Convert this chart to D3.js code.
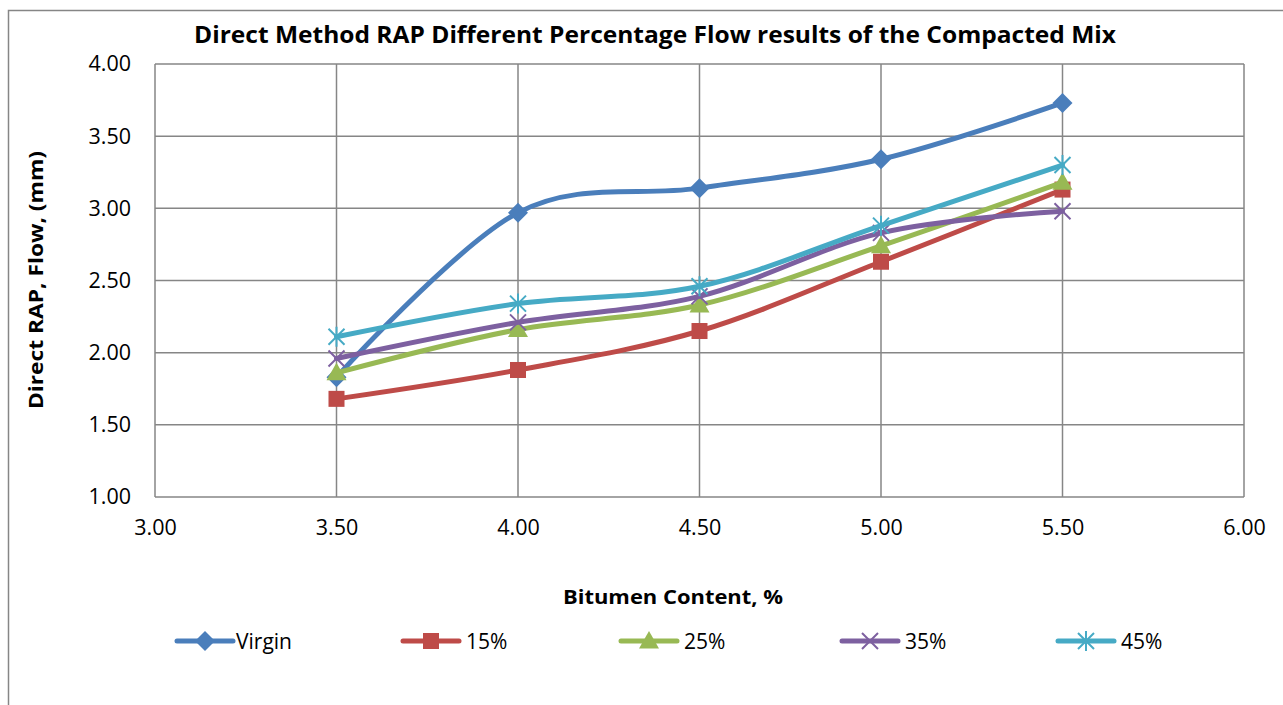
<!DOCTYPE html>
<html>
<head>
<meta charset="utf-8">
<script src="https://cdn.jsdelivr.net/npm/d3@7"></script>
<style>
  body { margin: 0; background: #fff; }
  svg { font-family: "Open Sans", sans-serif; }
</style>
</head>
<body>
<div id="graph"></div>
<script>
// Chart data
const bitumen = [3.5, 4.0, 4.5, 5.0, 5.5];
const virgin = [1.83, 2.97, 3.14, 3.34, 3.73];
const rap15 = [1.68, 1.88, 2.15, 2.63, 3.13];
const rap25 = [1.86, 2.16, 2.33, 2.74, 3.18];
const rap35 = [1.96, 2.21, 2.39, 2.83, 2.98];
const rap45 = [2.11, 2.34, 2.46, 2.88, 3.30];
const seriesNames = ['Virgin', '15%', '25%', '35%', '45%'];
const xTicks = [3.0, 3.5, 4.0, 4.5, 5.0, 5.5, 6.0];
const yTicks = [1.0, 1.5, 2.0, 2.5, 3.0, 3.5, 4.0];

const colors = ['#4a7ebb', '#be4b48', '#98b954', '#7d60a0', '#46aac5'];
const symbols = ['diamond', 'square', 'triangle', 'x', 'star'];
const allValues = [virgin, rap15, rap25, rap35, rap45];

const series = seriesNames.map((name, i) => ({
  name: name,
  color: colors[i],
  symbol: symbols[i],
  points: bitumen.map((b, j) => ({ x: b, y: allValues[i][j] }))
}));

const width = 1283, height = 705;
const plot = { left: 155, top: 64, right: 1244, bottom: 497 };

const svg = d3.select('#graph').append('svg')
  .attr('width', width)
  .attr('height', height);

// outer chart frame
svg.append('path')
  .attr('d', 'M8.5,705 L8.5,10.5 L1283,10.5')
  .attr('fill', 'none')
  .attr('stroke', '#868686')
  .attr('stroke-width', 1.5);

const x = d3.scaleLinear().domain([3, 6]).range([plot.left, plot.right]);
const y = d3.scaleLinear().domain([1, 4]).range([plot.bottom, plot.top]);

// gridlines
svg.append('g')
  .selectAll('line.v')
  .data(xTicks)
  .enter().append('line')
    .attr('x1', d => x(d)).attr('x2', d => x(d))
    .attr('y1', plot.top).attr('y2', plot.bottom)
    .attr('stroke', '#868686').attr('stroke-width', 1.5);

svg.append('g')
  .selectAll('line.h')
  .data(yTicks)
  .enter().append('line')
    .attr('x1', plot.left).attr('x2', plot.right)
    .attr('y1', d => y(d)).attr('y2', d => y(d))
    .attr('stroke', '#868686').attr('stroke-width', 1.5);

// axes (labels only, lines come from the grid)
const xAxis = svg.append('g')
  .attr('transform', `translate(0,${plot.bottom})`)
  .call(d3.axisBottom(x).tickValues(xTicks).tickFormat(d3.format('.2f')).tickSize(0).tickPadding(23));
const yAxis = svg.append('g')
  .attr('transform', `translate(${plot.left},0)`)
  .call(d3.axisLeft(y).tickValues(yTicks).tickFormat(d3.format('.2f')).tickSize(0).tickPadding(24));
[xAxis, yAxis].forEach(a => {
  a.select('.domain').remove();
  a.selectAll('text').attr('font-size', 21.5).attr('fill', '#000')
    .attr('font-family', '"Open Sans", sans-serif');
});

// titles
svg.append('text')
  .attr('x', 655).attr('y', 43)
  .attr('text-anchor', 'middle')
  .attr('font-size', 22.5).attr('font-weight', 'bold')
  .attr('textLength', 922).attr('lengthAdjust', 'spacingAndGlyphs')
  .text('Direct Method RAP Different Percentage Flow results of the Compacted Mix');

svg.append('text')
  .attr('x', 673).attr('y', 604)
  .attr('text-anchor', 'middle')
  .attr('font-size', 20).attr('font-weight', 'bold')
  .attr('textLength', 220).attr('lengthAdjust', 'spacingAndGlyphs')
  .text('Bitumen Content, %');

svg.append('text')
  .attr('transform', 'translate(43,280) rotate(-90)')
  .attr('text-anchor', 'middle')
  .attr('font-size', 20).attr('font-weight', 'bold')
  .attr('textLength', 258).attr('lengthAdjust', 'spacingAndGlyphs')
  .text('Direct RAP, Flow, (mm)');

// marker drawing
function marker(g, sym, color, s) {
  if (sym === 'diamond') {
    g.append('path').attr('d', `M0,${-s} L${s},0 L0,${s} L${-s},0 Z`).attr('fill', color);
  } else if (sym === 'square') {
    g.append('rect').attr('x', -s * 0.8).attr('y', -s * 0.8)
      .attr('width', s * 1.6).attr('height', s * 1.6).attr('fill', color);
  } else if (sym === 'triangle') {
    g.append('path').attr('d', `M0,${-s} L${s},${s * 0.75} L${-s},${s * 0.75} Z`).attr('fill', color);
  } else if (sym === 'x') {
    const a = s * 0.8;
    g.append('path').attr('d', `M${-a},${-a} L${a},${a} M${-a},${a} L${a},${-a}`)
      .attr('stroke', color).attr('stroke-width', 2).attr('fill', 'none');
  } else if (sym === 'star') {
    const a = s * 0.8;
    g.append('path').attr('d', `M${-a},${-a} L${a},${a} M${-a},${a} L${a},${-a} M0,${-s} L0,${s}`)
      .attr('stroke', color).attr('stroke-width', 2).attr('fill', 'none');
  }
}

// lines
const line = d3.line()
  .x(d => x(d.x))
  .y(d => y(d.y))
  .curve(d3.curveCardinal.tension(0));

const groups = svg.append('g').selectAll('g.series')
  .data(series)
  .enter().append('g')
    .attr('class', 'series');

groups.append('path')
  .attr('d', d => line(d.points))
  .attr('fill', 'none')
  .attr('stroke', d => d.color)
  .attr('stroke-width', 5)
  .attr('stroke-linejoin', 'round')
  .attr('stroke-linecap', 'round');

groups.each(function (d) {
  const g = d3.select(this);
  d.points.forEach(p => {
    const m = g.append('g').attr('transform', `translate(${x(p.x)},${y(p.y)})`);
    marker(m, d.symbol, d.color, 10);
  });
});

// legend
const legendX = [177, 403, 621, 842, 1058];
const legend = svg.append('g').selectAll('g.legend')
  .data(series)
  .enter().append('g')
    .attr('transform', (d, i) => `translate(${legendX[i]},641)`);

legend.append('line')
  .attr('x1', 0).attr('x2', 56)
  .attr('stroke', d => d.color)
  .attr('stroke-width', 5)
  .attr('stroke-linecap', 'round');

legend.each(function (d) {
  const m = d3.select(this).append('g').attr('transform', 'translate(28,0)');
  marker(m, d.symbol, d.color, 10);
});

legend.append('text')
  .attr('x', (d, i) => i === 0 ? 59 : 63)
  .attr('y', 8)
  .attr('font-size', 21)
  .text(d => d.name);
</script>
</body>
</html>
